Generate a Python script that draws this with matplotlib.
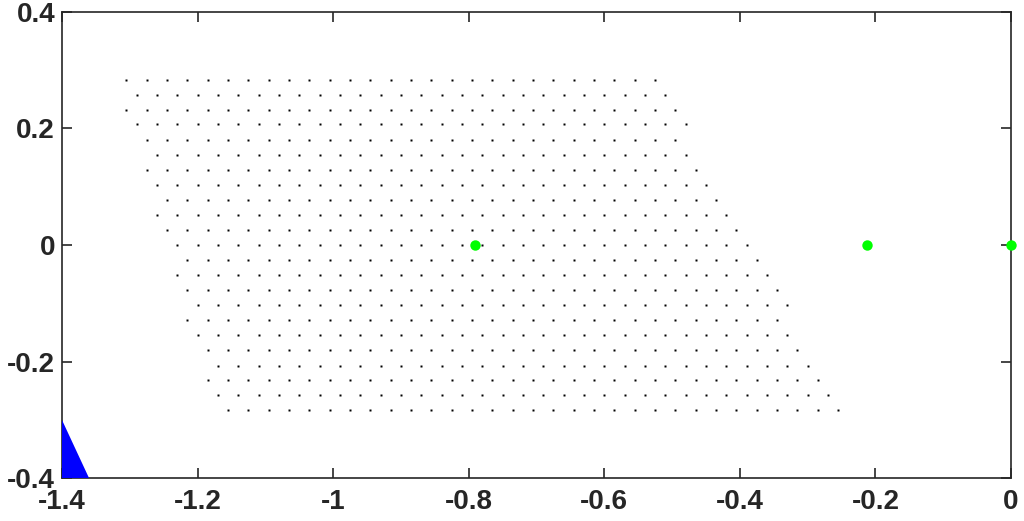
import matplotlib
matplotlib.use("Agg")
import matplotlib.pyplot as plt
import numpy as np

# triangular lattice of sample points, read row by row (top -> bottom)
step = 0.03                      # spacing between points in a row
x_first = -1.305                 # x of the first point in the top row
row_y = [0.284, 0.258, 0.232, 0.207, 0.181, 0.155, 0.129, 0.103, 0.078, 0.052, 0.026, 0.0,
         -0.026, -0.052, -0.078, -0.103, -0.129, -0.155, -0.181, -0.207, -0.232, -0.258, -0.284]
# first/last point of each row, in half-steps from x_first
row_start = [0, 1, 0, 1, 2, 3, 2, 3, 4, 3, 4, 5, 6, 5, 6, 7, 6, 7, 8, 9, 8, 9, 10]
row_end = [52, 53, 54, 55, 54, 55, 56, 57, 58, 59, 60, 61, 62, 63, 64, 65, 64, 65, 66, 67, 68, 69, 70]

green_x = [-0.79, -0.213, 0.0]
green_y = [0.0, 0.0, 0.0]

tri_x = [-1.4, -1.4, -1.3605]
tri_y = [-0.3, -0.4, -0.4]

xs, ys = [], []
for y, a, b in zip(row_y, row_start, row_end):
    u = np.arange(a, b + 1, 2)
    xs.extend(x_first + u * step / 2)
    ys.extend([y] * len(u))

plt.rcParams["font.family"] = ["Liberation Sans", "DejaVu Sans"]

fig = plt.figure(figsize=(10.24, 5.21), dpi=100)
ax = fig.add_axes([0.0605, 0.0825, 0.9268, 0.8945])

ax.plot(xs, ys, ls="none", marker="s", ms=1.5, mec="none", mfc="black")
ax.plot(green_x, green_y, ls="none", marker="o", ms=7.5, mec="none", mfc="#00ff00",
        clip_on=False, zorder=4)
ax.fill(tri_x, tri_y, color="#0000ff", lw=0, zorder=3, clip_on=False)

ax.set_xlim(-1.4, 0)
ax.set_ylim(-0.4, 0.4)
ax.set_xticks([-1.4, -1.2, -1.0, -0.8, -0.6, -0.4, -0.2, 0])
ax.set_xticklabels(["-1.4", "-1.2", "-1", "-0.8", "-0.6", "-0.4", "-0.2", "0"])
ax.set_yticks([-0.4, -0.2, 0, 0.2, 0.4])
ax.set_yticklabels(["-0.4", "-0.2", "0", "0.2", "0.4"])
ax.tick_params(direction="in", length=7, width=1.2, top=True, right=True,
               labelsize=20, colors="#262626")
ax.tick_params(axis="x", pad=8)
ax.tick_params(axis="y", pad=5)
for lab in ax.get_xticklabels() + ax.get_yticklabels():
    lab.set_fontweight("bold")
for s in ax.spines.values():
    s.set_linewidth(1.2)
    s.set_color("#262626")

fig.savefig("out.png", dpi=100)
